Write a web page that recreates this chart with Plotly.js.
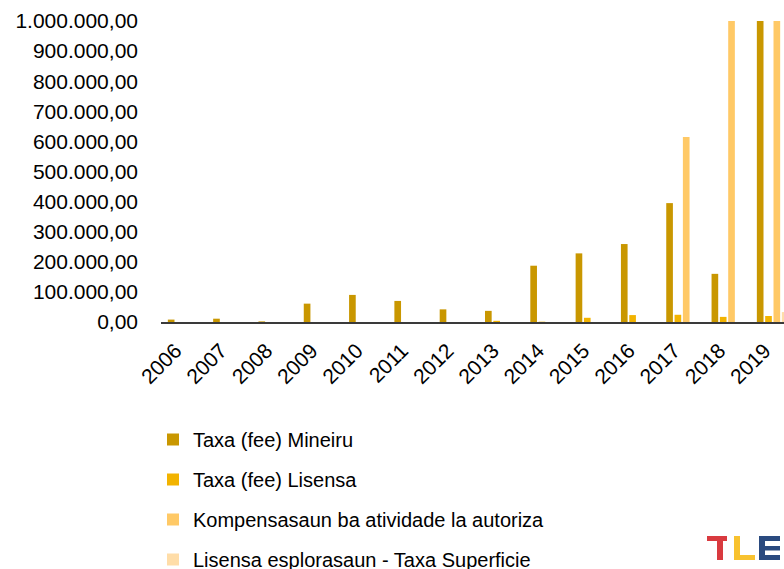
<!DOCTYPE html>
<html>
<head>
<meta charset="utf-8">
<script src="https://cdn.plot.ly/plotly-3.0.1.min.js"></script>
<style>html,body{margin:0;padding:0;background:#fff;}#chart{width:784px;height:569px;}</style>
</head>
<body>
<div id="chart"></div>
<script>
var years = ['2006','2007','2008','2009','2010','2011','2012','2013','2014','2015','2016','2017','2018','2019'];
var taxaMineiru = [8000, 11000, 2000, 61000, 90000, 70000, 42000, 37000, 187000, 228000, 259000, 395000, 160000, 1200000];
var taxaLisensa = [0, 0, 0, 0, 0, 0, 0, 4000, 1000, 14000, 23000, 24000, 17000, 20000];
var kompensasaun = [0, 0, 0, 0, 0, 0, 0, 0, 0, 0, 0, 615000, 1050000, 1050000];
var superficie = [0, 0, 0, 0, 0, 0, 0, 0, 0, 0, 0, 0, 0, 33000];
var seriesNames = ['Taxa (fee) Mineiru', 'Taxa (fee) Lisensa', 'Kompensasaun ba atividade la autoriza', 'Lisensa esplorasaun - Taxa Superficie'];
var yTicks = [0, 100000, 200000, 300000, 400000, 500000, 600000, 700000, 800000, 900000, 1000000];

var colors = ['#C99700', '#F2B300', '#FFC966', '#FFDDA8'];
var values = [taxaMineiru, taxaLisensa, kompensasaun, superficie];

var traces = values.map(function(v, i){
  return {
    type: 'bar', x: years, y: v, name: seriesNames[i],
    legendgroup: 'g' + i,
    marker: {color: colors[i]},
    hoverinfo: 'x+y+name'
  };
});

// pixel helpers for decoration (logo, legend placement) in paper coordinates
var L = 161, R = 784, T = 21, B = 322;
function px(x){ return (x - L) / (R - L); }
function py(y){ return (B - y) / (B - T); }
function rect(x0, y0, x1, y1, c){
  return {type:'rect', xref:'paper', yref:'paper', x0:px(x0), x1:px(x1), y0:py(y1), y1:py(y0), fillcolor:c, line:{width:0}, layer:'above'};
}
var red = '#D93A3F', yel = '#F8C22F', blu = '#2A4A7F';
var shapes = [
  rect(707, 536, 727, 541, red), rect(717, 541, 723, 560, red),
  rect(734, 536, 740, 560, yel), rect(734, 555, 755, 560, yel),
  rect(759, 536, 780, 541, blu), rect(759, 536, 765, 560, blu),
  rect(759, 546, 780, 550.5, blu), rect(759, 555, 780, 560, blu)
];

var layout = {
  width: 784, height: 569,
  margin: {l: L, r: 784 - R, t: T, b: 569 - B, pad: 0, autoexpand: false},
  paper_bgcolor: '#fff', plot_bgcolor: '#fff',
  separators: ',.',
  font: {family: 'Liberation Sans, Arial, sans-serif', color: '#000', size: 20},
  barmode: 'group', bargap: 0.265, bargroupgap: 0.2,
  showlegend: true,
  legend: {x: px(153), y: py(420), xanchor: 'left', yanchor: 'top', orientation: 'v',
           font: {size: 20, color: '#000'}, tracegroupgap: 11, bgcolor: 'rgba(0,0,0,0)'},
  xaxis: {type: 'category', range: [-0.5, 13.25], tickangle: -45, showline: true, linecolor: '#3a3a3a', linewidth: 2,
          ticks: '', showgrid: false, zeroline: false, fixedrange: true, ticklabelstandoff: 6, ticklabelshift: -8,
          tickfont: {size: 21, color: '#000'}},
  yaxis: {range: [0, 1000000], tickvals: yTicks, tickformat: ',.2f', showgrid: false, zeroline: false, showline: false,
          ticks: '', ticklabelstandoff: 22, tickfont: {size: 21, color: '#000'}, fixedrange: true},
  shapes: shapes
};

Plotly.newPlot('chart', traces, layout, {displayModeBar: false, staticPlot: true});
</script>
</body>
</html>
